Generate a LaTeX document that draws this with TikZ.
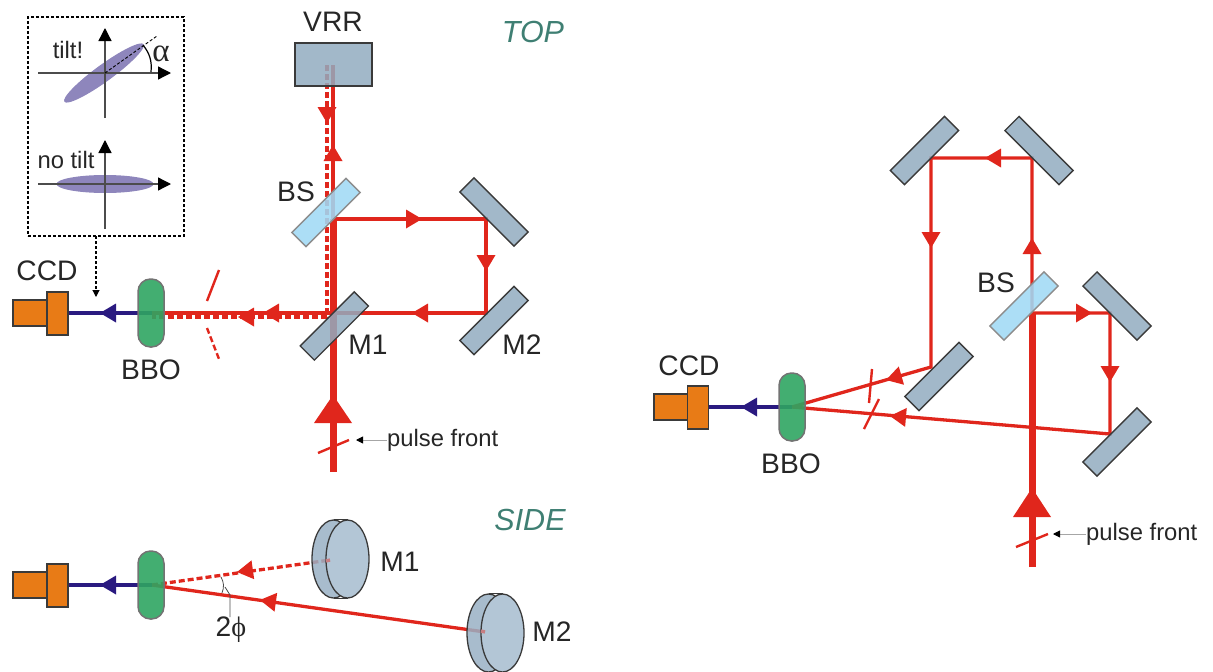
\documentclass[tikz,border=0pt]{standalone}
\usepackage{fontspec}
\setmainfont{Liberation Sans}
\newfontfamily\grk{Liberation Serif}
\usetikzlibrary{arrows.meta,shapes.geometric,shapes.misc}
\definecolor{beam}{HTML}{E0261C}
\definecolor{mirrorc}{HTML}{92ABBF}
\definecolor{bsc}{HTML}{A0D9F5}
\definecolor{bboc}{HTML}{2FA562}
\definecolor{ccdc}{HTML}{E87B16}
\definecolor{bluebeam}{HTML}{2A1A80}
\definecolor{ell}{HTML}{8E86BC}
\definecolor{edgec}{HTML}{3A3A3A}
\definecolor{headc}{HTML}{3F7F73}
\definecolor{discc}{HTML}{B3C6D6}
\newcommand{\redtip}[4][beam]{\fill[#1,shift={(#2)},rotate=#3] (0,0)--(-16,#4)--(-16,-#4)--cycle;}
\tikzset{
 lbl/.style={inner sep=0pt,font=\fontsize{28.2}{28.2}\selectfont,text=black!85},
 small/.style={inner sep=0pt,font=\fontsize{23.8}{24}\selectfont,text=black!85,anchor=west},
 head/.style={inner sep=0pt,font=\fontsize{30.5}{30.5}\selectfont\itshape,text=headc},
 mirror/.style={draw=edgec,line width=1.3pt,fill=mirrorc,fill opacity=.85,draw opacity=1,rectangle,inner sep=0pt,minimum width=76.5pt,minimum height=20pt},
 splitter/.style={draw=black!45,line width=1.3pt,fill=bsc,fill opacity=.88,draw opacity=1,rectangle,inner sep=0pt,minimum width=76.5pt,minimum height=20pt},
 bbo/.style={draw=black!55,line width=1.5pt,fill=bboc,fill opacity=.9,draw opacity=1,rectangle,rounded corners=12.5pt,inner sep=0pt,minimum width=26pt,minimum height=68pt},
 ccd/.style={draw=edgec,line width=1.4pt,fill=ccdc,rectangle,inner sep=0pt},
 ccdb/.style={ccd,minimum width=34pt,minimum height=26pt},
 ccda/.style={ccd,minimum width=21pt,minimum height=43pt},
 thick beam/.style={beam,line width=7pt},
 med beam/.style={beam,line width=3.3pt},
 dash beam/.style={beam,line width=3.3pt,dash pattern=on 6pt off 3pt},
 tick/.style={beam,line width=2.4pt},
 dash tick/.style={beam,line width=2.4pt,dash pattern=on 6pt off 3pt},
 blue beam/.style={bluebeam,line width=3.2pt},
 axis/.style={black!70,line width=1.3pt,-{Triangle[length=13pt,width=13pt,color=black]}},
 lead/.style={black!35,line width=.9pt,-{Triangle[length=7pt,width=7pt,color=black]}},
 ellipsis/.style={ellipse,fill=ell,inner sep=0pt,draw=none},
 discback/.style={ellipse,draw=edgec,line width=1.3pt,fill=mirrorc!80!discc,fill opacity=.85,draw opacity=1,inner sep=0pt,minimum width=43pt,minimum height=78pt},
 discfront/.style={ellipse,draw=edgec,line width=1.3pt,fill=discc,inner sep=0pt,minimum width=43pt,minimum height=78pt},
 faint/.style={beam!45!discc,line width=3.3pt,dash pattern=on 5pt off 3pt},
}
\begin{document}
\begin{tikzpicture}[x=1pt,y=-1pt]
\useasboundingbox (0,0) rectangle (1213,672);
% ---------- inset
\node[draw=black,line width=1.1pt,densely dashed,rectangle,inner sep=0pt,minimum width=156pt,minimum height=219pt] (inset) at (106,126.5) {};
\node[ellipsis,minimum width=98pt,minimum height=17pt,rotate=36] (e1) at (104,73) {};
\node[ellipsis,minimum width=97pt,minimum height=18pt] (e2) at (105,184) {};
\coordinate (a1l) at (38,73); \coordinate (a1r) at (171,73);
\coordinate (a1b) at (105,118); \coordinate (a1t) at (105,28);
\coordinate (a2l) at (38,184); \coordinate (a2r) at (171,184);
\coordinate (a2b) at (105,229); \coordinate (a2t) at (105,140);
\draw[axis] (a1l)--(a1r);
\draw[axis] (a1b)--(a1t);
\draw[axis] (a2l)--(a2r);
\draw[axis] (a2b)--(a2t);
\coordinate (o1) at (105,73); \coordinate (t1) at (157,36);
\draw[black,line width=.9pt,densely dashed] (o1)--(t1);
\draw[black,line width=1.2pt] (143,45) to[bend left=22] (151,72);
\node[inner sep=0pt,font=\grk\fontsize{33}{33}\selectfont,text=black!85] (alpha) at (161,54) {α};
\node[small,anchor=center] (tilt) at (68,50) {tilt!};
\node[small,anchor=center] (notilt) at (66,160) {no tilt};
\coordinate (ib) at (96,236); \coordinate (ie) at (96,297);
\draw[black,line width=1.1pt,densely dashed,-{Triangle[length=7pt,width=7pt]}] (ib)--(ie);
% ---------- TOP beams
\coordinate (Bbbo) at (152,313); \coordinate (Bm1) at (333,313); \coordinate (Bm2) at (486,313);
\coordinate (Dbbo) at (152,317); \coordinate (Dm1) at (327,317); \coordinate (Dv) at (327,65);
\coordinate (Bin) at (333,472); \coordinate (Bbs) at (333,219); \coordinate (Bv) at (333,65);
\coordinate (Bm3) at (486,219);
\draw[thick beam] (Bin)--(Bbs);
\draw[med beam] (Bbs)--(Bv);
\draw[med beam] (Bbs)--(Bm3)--(Bm2)--(Bbbo);
\draw[dash beam] (Dv)--(Dm1)--(Dbbo);
\redtip{333,145}{90}{9.5}
\redtip{327,123}{-90}{9.5}
\redtip{422,219}{0}{9.5}
\redtip{486,271}{-90}{9.5}
\redtip{412,313}{180}{9.5}
\redtip{263,313}{180}{9.5}
\redtip{238,317}{180}{9.5}
\fill[beam,shift={(333,395)}] (0,0)--(-19,28)--(19,28)--cycle;
\coordinate (q1) at (219,270); \coordinate (q2) at (207,301);
\coordinate (q3) at (207,328); \coordinate (q4) at (219,359);
\draw[tick] (q1)--(q2);
\draw[dash tick] (q3)--(q4);
\coordinate (p1) at (318,453); \coordinate (p2) at (349,440);
\draw[tick] (p1)--(p2);
\node[small] (pf1) at (387,440) {pulse front};
\coordinate (pa) at (356,440);
\draw[lead] (pf1.west)--(pa);
% blue
\node[ccdb] (c1b) at (30,313) {};
\node[ccda] (c1a) at (57.5,313.5) {};
\coordinate (Bb1) at (152,313);
\draw[blue beam] (c1a.east |- Bb1)--(Bb1);
\redtip[bluebeam]{100,313}{180}{9.5}
\node[bbo] (bbo1) at (151,313) {};
\node[mirror,rotate=45] (m1) at (334.3,326) {};
\node[splitter,rotate=45] (bs1) at (326,212.5) {};
\node[mirror,rotate=-45] (m3) at (494,212) {};
\node[mirror,rotate=45] (m2) at (494,320.5) {};
\node[draw=edgec,line width=1.3pt,fill=mirrorc,fill opacity=.85,draw opacity=1,rectangle,inner sep=0pt,minimum width=77pt,minimum height=43pt] (vrr) at (333.5,64.5) {};
\node[lbl] (lvrr) at (333,22) {VRR};
\node[lbl] (lbs) at (296,192) {BS};
\node[lbl] (lm1) at (368,345) {M1};
\node[lbl] (lm2) at (522,345) {M2};
\node[lbl] (lbbo) at (151,370) {BBO};
\node[lbl] (lccd) at (47,271) {CCD};
\node[head] (top) at (533,32) {TOP};
% ---------- SIDE
\coordinate (Sb) at (152,585); \coordinate (Sd) at (330,560); \coordinate (Ss) at (485,632);
\draw[med beam] (Sb)--(Ss);
\draw[dash beam] (Sb)--(Sd);
\redtip{237,572}{188}{9.5}
\redtip{260,600}{172}{9.5}
\draw[black!70,line width=.8pt] (221,577) to[bend left=25] (222,593);
\coordinate (ll1) at (225,587); \coordinate (ll2) at (230,595); \coordinate (ll3) at (230,617);
\draw[black!70,line width=.8pt] (ll1)--(ll2)--(ll3);
\node[inner sep=0pt,font=\fontsize{28.2}{28.2}\selectfont,text=black!85] (phi) at (231,630) {2{\grk ϕ}};
\node[ccdb] (c2b) at (30,585) {};
\node[ccda] (c2a) at (57.5,585.5) {};
\draw[blue beam] (c2a.east |- Sb)--(Sb);
\redtip[bluebeam]{100,585}{180}{9.5}
\node[bbo] (bbo2) at (151,585) {};
\node[discback] (d1b) at (333.5,559) {};
\node[discfront] (d1f) at (347.5,559) {};
\draw[edgec,line width=1.3pt] (d1b.north)--(d1f.north) (d1b.south)--(d1f.south);
\coordinate (f1a) at (326,561);
\draw[faint] (f1a)--(Sd);
\node[discback] (d2b) at (488.5,633) {};
\node[discfront] (d2f) at (502.5,633) {};
\draw[edgec,line width=1.3pt] (d2b.north)--(d2f.north) (d2b.south)--(d2f.south);
\coordinate (f2a) at (481,631);
\draw[faint] (f2a)--(Ss);
\node[lbl] (ls1) at (400,562) {M1};
\node[lbl] (ls2) at (552,632) {M2};
\node[head] (side) at (530,520) {SIDE};
% ---------- RIGHT
\coordinate (Rin) at (1032,567); \coordinate (Rbs) at (1032,313); \coordinate (Rt) at (1032,158);
\coordinate (Rtl) at (931,158); \coordinate (Rll) at (931,367); \coordinate (Rb) at (792,407);
\coordinate (Rs) at (1110,313); \coordinate (Rd) at (1110,434);
\draw[thick beam] (Rin)--(Rbs);
\draw[med beam] (Rbs)--(Rt)--(Rtl)--(Rll)--(Rb);
\draw[med beam] (Rbs)--(Rs)--(Rd)--(Rb);
\redtip{1032,238}{90}{9.5}
\redtip{985,158}{180}{9.5}
\redtip{931,248}{-90}{9.5}
\redtip{886,380}{196}{9.5}
\redtip{890,416}{175}{9.5}
\redtip{1092,313}{0}{9.5}
\redtip{1110,382}{-90}{9.5}
\fill[beam,shift={(1032,488)}] (0,0)--(-19,29)--(19,29)--cycle;
\coordinate (r1) at (872,369); \coordinate (r2) at (869,403);
\coordinate (r3) at (879,399); \coordinate (r4) at (864,429);
\draw[tick] (r1)--(r2);
\draw[tick] (r3)--(r4);
\coordinate (r5) at (1016,547); \coordinate (r6) at (1048,534);
\draw[tick] (r5)--(r6);
\node[small] (pf2) at (1086,534) {pulse front};
\coordinate (pb) at (1053,534);
\draw[lead] (pf2.west)--(pb);
\node[ccdb] (c3b) at (671,407) {};
\node[ccda] (c3a) at (698,407.5) {};
\draw[blue beam] (c3a.east |- Rb)--(Rb);
\redtip[bluebeam]{741,407}{180}{9.5}
\node[bbo] (bbo3) at (792,407) {};
\node[mirror,rotate=45] (rm1) at (924.5,150.5) {};
\node[mirror,rotate=-45] (rm2) at (1039,150.5) {};
\node[splitter,rotate=45] (rbs) at (1024,306) {};
\node[mirror,rotate=-45] (rm3) at (1117,306) {};
\node[mirror,rotate=45] (rm4) at (1117,442) {};
\node[mirror,rotate=45] (rm5) at (939,376.5) {};
\node[lbl] (lrbs) at (996,283) {BS};
\node[lbl] (lrccd) at (689,366) {CCD};
\node[lbl] (lrbbo) at (791,464) {BBO};
\end{tikzpicture}
\end{document}
